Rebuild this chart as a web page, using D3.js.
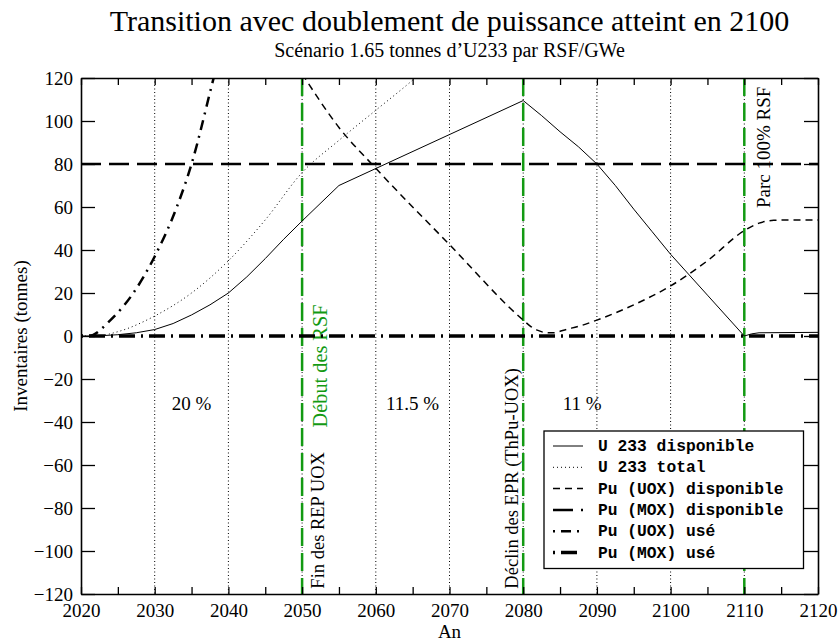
<!DOCTYPE html>
<html>
<head>
<meta charset="utf-8">
<script src="https://cdn.jsdelivr.net/npm/d3@7/dist/d3.min.js"></script>
<style>
  html, body { margin: 0; padding: 0; background: #fff; }
  svg { display: block; }
</style>
</head>
<body>
<svg id="chart" width="839" height="643"></svg>
<script>
// ---- Data (tonnes per year) ----
const u233DispoYears = [2020, 2022, 2025, 2027.5, 2030, 2032.5, 2035, 2037.5, 2040, 2042.5, 2045, 2047.5, 2050, 2055, 2080, 2082.5, 2085, 2087.5, 2090, 2092.5, 2095, 2097.5, 2100, 2105, 2110, 2111, 2112, 2120];
const u233DispoValues = [0, 0, 0.6, 1.5, 3, 5.8, 9.8, 14.5, 20, 27.5, 36, 45, 53.5, 70, 109.5, 102.5, 95, 88, 80, 70, 59, 48.5, 38, 19, 0, 1, 1.5, 1.7];

const u233TotalYears = [2020, 2022, 2025, 2030, 2035, 2040, 2045, 2050, 2055, 2060, 2065, 2067];
const u233TotalValues = [0, 0, 2, 9.3, 20, 35, 54, 76, 91, 105, 119, 125];

const puUoxDispoYears = [2050, 2055, 2060, 2070, 2080, 2081, 2082, 2083, 2084, 2086, 2088, 2090, 2095, 2100, 2105, 2110, 2112, 2114, 2116, 2120];
const puUoxDispoValues = [122, 97, 78, 42.5, 7.4, 4.5, 2.6, 1.6, 1.5, 3.2, 5, 7.4, 14.5, 23.3, 35, 49, 52.5, 53.8, 54, 54];

const puMoxDispoYears = [2020, 2120];
const puMoxDispoValues = [80, 80];

const puUoxUseYears = [2020, 2021, 2024, 2027, 2030, 2033, 2035, 2038, 2039];
const puUoxUseValues = [0, 0, 7.4, 19.5, 37, 60, 80, 120, 133];

const puMoxUseYears = [2020, 2120];
const puMoxUseValues = [0, 0];

const xTickLabels = [2020, 2030, 2040, 2050, 2060, 2070, 2080, 2090, 2100, 2110, 2120];
const xMinorTicks = d3.range(2025, 2120, 10);
const yTickLabels = [-120, -100, -80, -60, -40, -20, 0, 20, 40, 60, 80, 100, 120];
const gridYears = [2030, 2040, 2050, 2060, 2070, 2080, 2090, 2100, 2110];
const eventYears = [2050, 2080, 2110];

const legendLabels = ["U 233 disponible", "U 233 total", "Pu (UOX) disponible", "Pu (MOX) disponible", "Pu (UOX) usé", "Pu (MOX) usé"];
const phaseLabels = [
  { year: 2035, text: "20 %" },
  { year: 2065, text: "11.5 %" },
  { year: 2088, text: "11 %" }
];

// ---- Layout ----
const W = 839, H = 643;
const plotL = 81, plotR = 818, plotT = 78, plotB = 594;
const serif = "'Liberation Serif', 'Times New Roman', Times, serif";
const mono = "'Liberation Mono', 'Courier New', Courier, monospace";
const green = "#139a13";

const svg = d3.select("#chart");
const x = d3.scaleLinear().domain([2020, 2120]).range([plotL, plotR]);
const y = d3.scaleLinear().domain([-120, 120]).range([plotB, plotT]);

svg.append("defs").append("clipPath").attr("id", "plot-clip")
  .append("rect").attr("x", plotL).attr("y", plotT)
  .attr("width", plotR - plotL).attr("height", plotB - plotT);

// Titles
svg.append("text").attr("x", (plotL + plotR) / 2).attr("y", 31)
  .attr("text-anchor", "middle").attr("font-family", serif).attr("font-size", 30)
  .text("Transition avec doublement de puissance atteint en 2100");
svg.append("text").attr("x", (plotL + plotR) / 2).attr("y", 57)
  .attr("text-anchor", "middle").attr("font-family", serif).attr("font-size", 20)
  .text("Scénario 1.65 tonnes d\u2019U233 par RSF/GWe");

// Vertical dotted grid
svg.append("g").selectAll("line").data(gridYears).join("line")
  .attr("x1", d => x(d)).attr("x2", d => x(d))
  .attr("y1", plotT).attr("y2", plotB)
  .attr("stroke", "#000").attr("stroke-width", 1).attr("stroke-dasharray", "1,2.5");

// Annotation texts (drawn under the curves)
const ann = svg.append("g").attr("font-family", serif);
ann.selectAll("text.phase").data(phaseLabels).join("text")
  .attr("class", "phase")
  .attr("x", d => x(d.year)).attr("y", y(-34.5))
  .attr("text-anchor", "middle").attr("font-size", 19)
  .text(d => d.text);

function vText(xPos, yPos, txt, size, color) {
  ann.append("text")
    .attr("transform", `translate(${xPos},${yPos}) rotate(-90)`)
    .attr("font-size", size).attr("fill", color)
    .text(txt);
}
vText(x(2050) + 22, y(-117.5), "Fin des REP UOX", 18.5, "#000");
vText(x(2050) + 25, y(-42.5), "Début des RSF", 20.3, green);
vText(x(2080) - 5, y(-117.5), "Déclin des EPR (ThPu-UOX)", 18.5, "#000");
vText(x(2110) + 26, y(59.5), "Parc 100% RSF", 19, "#000");

// Event markers
svg.append("g").selectAll("line").data(eventYears).join("line")
  .attr("x1", d => x(d)).attr("x2", d => x(d))
  .attr("y1", plotT).attr("y2", plotB)
  .attr("stroke", green).attr("stroke-width", 2.5).attr("stroke-dasharray", "18,7");

// Series
const series = [
  { years: u233DispoYears, values: u233DispoValues, width: 1, dash: null, curve: d3.curveLinear },
  { years: u233TotalYears, values: u233TotalValues, width: 1, dash: "1,3", curve: d3.curveMonotoneX },
  { years: puUoxDispoYears, values: puUoxDispoValues, width: 1.5, dash: "7,5", curve: d3.curveMonotoneX },
  { years: puMoxDispoYears, values: puMoxDispoValues, width: 2.5, dash: "20,8", curve: d3.curveLinear },
  { years: puUoxUseYears, values: puUoxUseValues, width: 2.5, dash: "2,6,10,6", curve: d3.curveMonotoneX },
  { years: puMoxUseYears, values: puMoxUseValues, width: 3.5, dash: "2,6,16,6", curve: d3.curveLinear }
];

const plot = svg.append("g").attr("clip-path", "url(#plot-clip)");
series.forEach(s => {
  const pts = s.years.map((yr, i) => [yr, s.values[i]]);
  const line = d3.line().x(d => x(d[0])).y(d => y(d[1])).curve(s.curve);
  plot.append("path").datum(pts)
    .attr("d", line).attr("fill", "none")
    .attr("stroke", "#000").attr("stroke-width", s.width)
    .attr("stroke-dasharray", s.dash);
});

// Axes (ticks point inward, mirrored on top and right)
const axisFont = g => g.selectAll("text").attr("font-family", serif).attr("font-size", 19).attr("fill", "#000");
const axisStroke = g => {
  g.select(".domain").attr("stroke", "#000").attr("stroke-width", 1.6);
  g.selectAll(".tick line").attr("stroke", "#000").attr("stroke-width", 1.3);
};

svg.append("g").attr("transform", `translate(0,${plotB})`)
  .call(d3.axisBottom(x).tickValues(xTickLabels).tickFormat(d3.format("d"))
    .tickSizeInner(-7).tickSizeOuter(0).tickPadding(9.5))
  .call(axisFont).call(axisStroke);
svg.append("g").attr("transform", `translate(0,${plotB})`)
  .call(d3.axisBottom(x).tickValues(xMinorTicks).tickFormat("")
    .tickSizeInner(-7).tickSizeOuter(0))
  .call(g => g.select(".domain").remove()).call(axisStroke);
svg.append("g").attr("transform", `translate(0,${plotT})`)
  .call(d3.axisTop(x).tickValues(xTickLabels.concat(xMinorTicks)).tickFormat("")
    .tickSizeInner(-7).tickSizeOuter(0))
  .call(axisStroke);

svg.append("g").attr("transform", `translate(${plotL},0)`)
  .call(d3.axisLeft(y).tickValues(yTickLabels).tickFormat(d3.format("d"))
    .tickSizeInner(-14).tickSizeOuter(0).tickPadding(8))
  .call(axisFont).call(axisStroke);
svg.append("g").attr("transform", `translate(${plotR},0)`)
  .call(d3.axisRight(y).tickValues(yTickLabels).tickFormat("")
    .tickSizeInner(-14).tickSizeOuter(0))
  .call(axisStroke);

// Axis titles
svg.append("text").attr("x", (plotL + plotR) / 2).attr("y", 638)
  .attr("text-anchor", "middle").attr("font-family", serif).attr("font-size", 19)
  .text("An");
svg.append("text")
  .attr("transform", `translate(27,${(plotT + plotB) / 2}) rotate(-90)`)
  .attr("text-anchor", "middle").attr("font-family", serif).attr("font-size", 19)
  .text("Inventaires (tonnes)");

// Legend
const lg = svg.append("g");
lg.append("rect").attr("x", 544).attr("y", 431).attr("width", 259.5).attr("height", 137.5)
  .attr("fill", "#fff").attr("stroke", "#000").attr("stroke-width", 1.3);
legendLabels.forEach((lab, i) => {
  const cy = 446 + i * 21.3;
  const s = series[i];
  lg.append("line").attr("x1", 553).attr("x2", 583).attr("y1", cy).attr("y2", cy)
    .attr("stroke", "#000").attr("stroke-width", s.width)
    .attr("stroke-dasharray", s.dash);
  lg.append("text").attr("x", 598).attr("y", cy + 5)
    .attr("font-family", mono).attr("font-weight", "bold").attr("font-size", 16.3)
    .text(lab);
});
</script>
</body>
</html>
